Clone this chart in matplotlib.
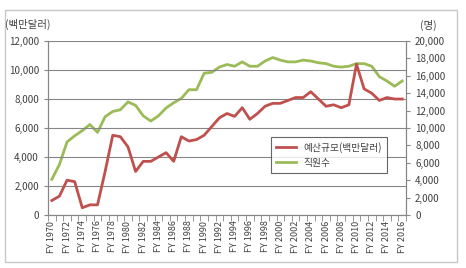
import matplotlib
matplotlib.use('Agg')
import matplotlib.pyplot as plt
from matplotlib.patches import Rectangle

plt.rcParams['font.family'] = ['Noto Sans CJK KR', 'DejaVu Sans']

years = list(range(1970, 2017))
budget = [1000, 1300, 2400, 2300, 500, 700, 700, 3000, 5500, 5400,
          4700, 3000, 3700, 3700, 4000, 4300, 3700, 5400, 5100, 5200,
          5500, 6100, 6700, 7000, 6800, 7400, 6600, 7000, 7500, 7700,
          7700, 7900, 8100, 8100, 8500, 8000, 7500, 7600, 7400, 7600,
          10400, 8700, 8400, 7900, 8100, 8000, 8000]
staff = [4100, 5800, 8400, 9100, 9700, 10400, 9500, 11300, 11900, 12100,
         13000, 12600, 11400, 10800, 11400, 12300, 12900, 13400, 14400, 14400,
         16300, 16400, 17000, 17300, 17100, 17600, 17100, 17100, 17700, 18100,
         17800, 17600, 17600, 17800, 17700, 17500, 17400, 17100, 17000, 17100,
         17400, 17400, 17100, 15900, 15400, 14800, 15400]
labels = ['FY %d' % y for y in years]

red = '#c0504d'
green = '#9bbb59'
gray = '#868686'
txt = '#404040'

fig = plt.figure(figsize=(4.66, 2.68), dpi=100)
fig.patches.append(Rectangle((0.011, 0.022), 0.97, 0.94, transform=fig.transFigure,
                             fill=False, edgecolor='#c8c8c8', linewidth=1))
ax = fig.add_axes([48/466, 1-215/268, 358/466, 174/268])
ax2 = ax.twinx()

x = list(range(len(years)))
l1, = ax.plot(x, budget, color=red, linewidth=2, label='예산규모(백만달러)')
l2, = ax2.plot(x, staff, color=green, linewidth=2, label='직원수')

ax.set_xlim(-0.5, len(years) - 0.5)
ax.set_ylim(0, 12000)
ax2.set_ylim(0, 20000)
ax.set_yticks(range(0, 12001, 2000))
ax2.set_yticks(range(0, 20001, 2000))
ax.set_yticklabels(['{:,}'.format(v) for v in range(0, 12001, 2000)])
ax2.set_yticklabels(['{:,}'.format(v) for v in range(0, 20001, 2000)])
ax.set_xticks(x[::2])
ax.set_xticklabels(labels[::2], rotation=90)
ax.set_xticks([i - 0.5 for i in range(len(years) + 1)], minor=True)
ax.tick_params(axis='x', which='major', length=0, labelsize=6.5, colors=txt, pad=4)
ax.tick_params(axis='x', which='minor', length=4, color=gray)
ax.tick_params(axis='y', length=3, color=gray, labelsize=7, labelcolor=txt)
ax2.tick_params(axis='y', length=3, color=gray, labelsize=7, labelcolor=txt)

ax.grid(axis='y', color=gray, linewidth=0.8)
ax.set_axisbelow(True)
for a in (ax, ax2):
    a.spines['top'].set_visible(False)
    for s in ('left', 'right', 'bottom'):
        a.spines[s].set_color(gray)
ax.set_zorder(ax2.get_zorder() + 1)
ax.patch.set_visible(False)

fig.text(5/466, 1-24/268, '(백만달러)', fontsize=7.5, color=txt, va='center')
fig.text(420/466, 1-25/268, '(명)', fontsize=7.5, color=txt, va='center')

leg = ax.legend([l1, l2], ['예산규모(백만달러)', '직원수'], loc='upper left',
                bbox_to_anchor=(0.61, 0.475), fontsize=7, frameon=True,
                fancybox=False, handlelength=2, labelcolor=txt, borderpad=0.5)
leg.get_frame().set_edgecolor('#404040')
leg.get_frame().set_linewidth(0.8)

fig.savefig('out.png', dpi=100)
